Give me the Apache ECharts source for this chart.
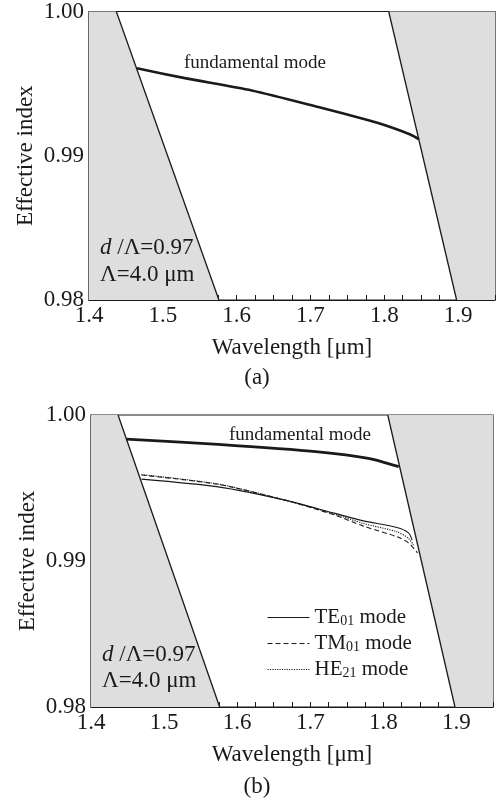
<!DOCTYPE html>
<html>
<head>
<meta charset="utf-8">
<script src="https://cdn.jsdelivr.net/npm/echarts@6/dist/echarts.min.js"></script>
<style>
  html, body { margin: 0; padding: 0; background: #fff; }
  #chart { width: 498px; height: 799px; }
</style>
</head>
<body>
<div id="chart"></div>
<script>
// axis ranges
const xRange = [1.4, 1.95];
const yRange = [0.98, 1.00];

// cutoff boundaries (same in both panels): [wavelength, index]
const leftBound = [[1.437, 1.00], [1.576, 0.98]];
const rightBound = [[1.806, 1.00], [1.898, 0.98]];

// panel (a)
const fundA = [
  [1.4650, 0.99606], [1.5299, 0.99538], [1.6204, 0.99453], [1.7107, 0.99338],
  [1.7786, 0.99246], [1.8012, 0.99211], [1.8352, 0.99147], [1.8470, 0.99114]
];

// panel (b)
const fundB = [
  [1.4485, 0.99835], [1.5740, 0.99799], [1.7110, 0.99748], [1.7795, 0.99703],
  [1.8210, 0.99646]
];
const te01 = [
  [1.4691, 0.99561], [1.5740, 0.99508], [1.6654, 0.99417], [1.7339, 0.99326],
  [1.7727, 0.99275], [1.8185, 0.99230], [1.8344, 0.99193], [1.8394, 0.99143]
];
const tm01 = [
  [1.4691, 0.99589], [1.5740, 0.99525], [1.6654, 0.99417], [1.7339, 0.99314],
  [1.7727, 0.99239], [1.8185, 0.99166], [1.8344, 0.99124], [1.8467, 0.99056]
];
const he21 = [
  [1.4691, 0.99592], [1.5740, 0.99527], [1.6654, 0.99417], [1.7339, 0.99321],
  [1.7727, 0.99257], [1.8185, 0.99200], [1.8344, 0.99155], [1.8412, 0.99109]
];

const modeNames = { TE01: ['TE', '01'], TM01: ['TM', '01'], HE21: ['HE', '21'] };

const font = 'Liberation Serif';
const ink = '#1a1a1a';

function xAxisCfg(gi) {
  return {
    gridIndex: gi,
    type: 'value',
    min: xRange[0],
    max: xRange[1],
    interval: 0.025,
    name: 'Wavelength [μm]',
    nameLocation: 'middle',
    nameGap: 36,
    nameMoveOverlap: false,
    nameTextStyle: { fontFamily: font, fontSize: 23, color: ink },
    axisLine: { show: true, onZero: false, lineStyle: { color: ink, width: 1.2 } },
    axisTick: { inside: true, length: 5, lineStyle: { color: ink, width: 1 } },
    axisLabel: {
      margin: 4,
      fontFamily: font,
      fontSize: 23,
      color: ink,
      formatter: function (v) {
        return Math.round(v * 1000) % 100 === 0 ? v.toFixed(1) : '';
      }
    },
    splitLine: { show: false }
  };
}

function yAxisCfg(gi) {
  return {
    gridIndex: gi,
    type: 'value',
    min: yRange[0],
    max: yRange[1],
    interval: 0.002,
    name: 'Effective index',
    nameLocation: 'middle',
    nameGap: 52,
    nameMoveOverlap: false,
    nameTextStyle: { fontFamily: font, fontSize: 23, color: ink },
    axisLine: { show: true, onZero: false, lineStyle: { color: ink, width: 1.2 } },
    axisTick: { inside: true, length: 5, lineStyle: { color: ink, width: 1 } },
    axisLabel: {
      margin: 5,
      fontFamily: font,
      fontSize: 23,
      color: ink,
      formatter: function (v) {
        return Math.round(v * 1000) % 10 === 0 ? v.toFixed(2) : '';
      }
    },
    splitLine: { show: false }
  };
}

function regionSeries(gi, pts) {
  return {
    type: 'custom',
    xAxisIndex: gi,
    yAxisIndex: gi,
    silent: true,
    z: 1,
    data: [0],
    renderItem: function (params, api) {
      return {
        type: 'polygon',
        shape: { points: pts.map(function (p) { return api.coord(p); }) },
        style: { fill: '#dedede' }
      };
    }
  };
}

function lineSeries(gi, name, data, width, type) {
  return {
    type: 'line',
    name: name,
    xAxisIndex: gi,
    yAxisIndex: gi,
    data: data,
    symbol: 'none',
    smooth: 0.25,
    silent: true,
    z: 3,
    color: ink,
    itemStyle: { color: ink },
    lineStyle: { color: ink, width: width, type: type || 'solid' }
  };
}

const leftPoly = [[xRange[0], yRange[1]], leftBound[0], leftBound[1], [xRange[0], yRange[0]]];
const rightPoly = [rightBound[0], [xRange[1], yRange[1]], [xRange[1], yRange[0]], rightBound[1]];

const series = [];
[0, 1].forEach(function (gi) {
  series.push(regionSeries(gi, leftPoly));
  series.push(regionSeries(gi, rightPoly));
  series.push(lineSeries(gi, 'left' + gi, leftBound, 1.3));
  series.push(lineSeries(gi, 'right' + gi, rightBound, 1.3));
});
series.push(lineSeries(0, 'fundA', fundA, 2.6));
series.push(lineSeries(1, 'fundB', fundB, 2.8));
series.push(lineSeries(1, 'TE01', te01, 1.1, 'solid'));
series.push(lineSeries(1, 'TM01', tm01, 1.1, [5, 3]));
series.push(lineSeries(1, 'HE21', he21, 1.1, [1.2, 1.2]));

function annot(x, y, text, size, rich, align) {
  return {
    type: 'text',
    x: x,
    y: y,
    z: 10,
    style: {
      text: text,
      rich: rich,
      fontFamily: font,
      fontSize: size,
      fill: ink,
      align: align || 'left',
      verticalAlign: 'middle'
    }
  };
}
const ratioRich = {
  i: { fontFamily: font, fontSize: 23, fontStyle: 'italic', fill: ink },
  n: { fontFamily: font, fontSize: 23, fill: ink }
};

const chart = echarts.init(document.getElementById('chart'));
chart.setOption({
  backgroundColor: '#fff',
  animation: false,
  grid: [
    { left: 89, top: 11, width: 407, height: 289, show: true, borderColor: ink, borderWidth: 1.2, backgroundColor: 'transparent' },
    { left: 91, top: 415, width: 402, height: 292, show: true, borderColor: ink, borderWidth: 1.2, backgroundColor: 'transparent' }
  ],
  xAxis: [xAxisCfg(0), xAxisCfg(1)],
  yAxis: [yAxisCfg(0), yAxisCfg(1)],
  legend: {
    data: ['TE01', 'TM01', 'HE21'],
    orient: 'vertical',
    left: 267,
    top: 607,
    padding: 0,
    itemWidth: 42,
    itemHeight: 14,
    itemGap: 5,
    selectedMode: false,
    itemStyle: { opacity: 0 },
    lineStyle: { width: 1 },
    formatter: function (name) {
      const p = modeNames[name];
      return '{a|' + p[0] + '}{s|' + p[1] + '}{a| mode}';
    },
    textStyle: {
      color: ink,
      rich: {
        a: { fontFamily: font, fontSize: 21, color: ink, lineHeight: 20 },
        s: { fontFamily: font, fontSize: 14, color: ink, lineHeight: 13, padding: [7, 0, 0, 0] }
      }
    }
  },
  graphic: [
    annot(184, 63, 'fundamental mode', 19),
    annot(229, 435, 'fundamental mode', 19),
    annot(100, 248, '{i|d}{n| /Λ=0.97}', 23, ratioRich),
    annot(100, 275, 'Λ=4.0 μm', 23),
    annot(102, 655, '{i|d}{n| /Λ=0.97}', 23, ratioRich),
    annot(102, 681, 'Λ=4.0 μm', 23),
    annot(257, 378, '(a)', 23, null, 'center'),
    annot(257, 787, '(b)', 23, null, 'center')
  ],
  series: series
});
</script>
</body>
</html>
